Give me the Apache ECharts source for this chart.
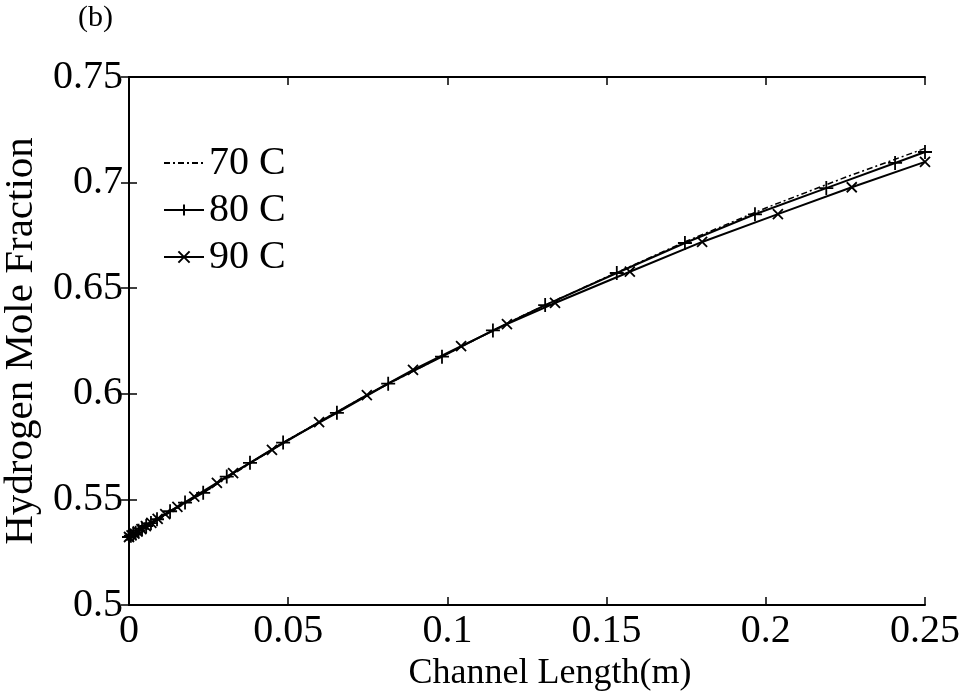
<!DOCTYPE html>
<html>
<head>
<meta charset="utf-8">
<script src="https://cdn.jsdelivr.net/npm/echarts@6/dist/echarts.min.js"></script>
<style>html,body{margin:0;padding:0;background:#fff;}#c{width:966px;height:697px;}</style>
</head>
<body>
<div id="c"></div>
<script>
// Data
const x70 = [0, 0.025, 0.05, 0.075, 0.1, 0.125, 0.15, 0.175, 0.2, 0.225, 0.25];
const y70 = [0.5322, 0.5547, 0.5783, 0.5997, 0.6190, 0.6380, 0.6553, 0.6722, 0.6880, 0.7025, 0.7162];

const x80 = [0, 0.0006, 0.0013, 0.0021, 0.0030, 0.0041, 0.0054, 0.0069, 0.0088, 0.0129, 0.0176, 0.0233, 0.0307, 0.0380, 0.0484, 0.0653, 0.0814, 0.0983, 0.1143, 0.1307, 0.1532, 0.1746, 0.1966, 0.2190, 0.2406, 0.2500];
const y80 = [0.5322, 0.5328, 0.5334, 0.5342, 0.5351, 0.5361, 0.5374, 0.5388, 0.5406, 0.5444, 0.5485, 0.5531, 0.5608, 0.5673, 0.5769, 0.5910, 0.6048, 0.6176, 0.6300, 0.6420, 0.6572, 0.6714, 0.6850, 0.6974, 0.7093, 0.7145];

const x90 = [0, 0.0008, 0.0017, 0.0027, 0.0039, 0.0053, 0.0070, 0.0090, 0.0114, 0.0152, 0.0205, 0.0276, 0.0327, 0.0449, 0.0597, 0.0747, 0.0892, 0.1043, 0.1187, 0.1338, 0.1573, 0.1800, 0.2038, 0.2270, 0.2500];
const y90 = [0.5322, 0.5330, 0.5338, 0.5348, 0.5359, 0.5373, 0.5389, 0.5408, 0.5430, 0.5465, 0.5513, 0.5578, 0.5624, 0.5734, 0.5866, 0.5994, 0.6113, 0.6226, 0.6330, 0.6430, 0.6578, 0.6719, 0.6851, 0.6978, 0.7098];

const seriesNames = ['70 C', '80 C', '90 C'];
const xTicks = {min: 0, max: 0.25, interval: 0.05};
const yTicks = {min: 0.5, max: 0.75, interval: 0.05};
const xTitle = 'Channel Length(m)';
const yTitle = 'Hydrogen Mole Fraction';
const panelLabel = '(b)';

const zip = (xs, ys) => xs.map((v, i) => [v, ys[i]]);
const FONT = '"Liberation Serif", "Times New Roman", serif';

const plusPath = 'path://M0,5L10,5M5,0L5,10';
const crossPath = 'path://M0,0L10,10M10,0L0,10';

const chart = echarts.init(document.getElementById('c'), null, {renderer: 'canvas'});

const axisCommon = {
  axisLine: {show: true, lineStyle: {color: '#000', width: 2}},
  axisTick: {show: true, inside: true, length: 8, lineStyle: {color: '#000', width: 1.5}},
  splitLine: {show: false},
};

chart.setOption({
  animation: false,
  backgroundColor: '#fff',
  grid: {left: 129, right: 41, top: 77, bottom: 92, containLabel: false, outerBoundsMode: 'none'},
  graphic: [{
    type: 'text', left: 78, top: 3,
    style: {text: panelLabel, font: '30px ' + FONT, fill: '#000'}
  }],
  legend: {
    orient: 'vertical', left: 158, top: 138,
    itemWidth: 40, itemHeight: 14, itemGap: 7,
    textStyle: {fontFamily: FONT, fontSize: 40, color: '#000'},
    data: seriesNames
  },
  xAxis: [
    Object.assign({
      type: 'value', position: 'bottom', min: xTicks.min, max: xTicks.max, interval: xTicks.interval,
      name: xTitle, nameLocation: 'middle', nameGap: 30,
      nameTextStyle: {fontFamily: FONT, fontSize: 36, color: '#000', padding: [0, 0, 0, 46]},
      axisLabel: {fontFamily: FONT, fontSize: 40, color: '#000', margin: 6}
    }, axisCommon),
    Object.assign({
      type: 'value', position: 'top', min: xTicks.min, max: xTicks.max, interval: xTicks.interval,
      axisLabel: {show: false}
    }, axisCommon)
  ],
  yAxis: [
    Object.assign({
      type: 'value', position: 'left', min: yTicks.min, max: yTicks.max, interval: yTicks.interval,
      name: yTitle, nameLocation: 'middle', nameGap: 79,
      nameTextStyle: {fontFamily: FONT, fontSize: 41, color: '#000'},
      axisLabel: {fontFamily: FONT, fontSize: 40, color: '#000', margin: 6}
    }, axisCommon),
    Object.assign({
      type: 'value', position: 'right', min: yTicks.min, max: yTicks.max, interval: yTicks.interval,
      axisLabel: {show: false}
    }, axisCommon)
  ],
  series: [
    {
      name: seriesNames[0], type: 'line', data: zip(x70, y70),
      showSymbol: false, symbol: 'circle', symbolSize: 1, smooth: false,
      lineStyle: {color: '#000', width: 1.5, type: [6, 3, 2, 3]},
      itemStyle: {color: 'rgba(0,0,0,0)', borderWidth: 0}
    },
    {
      name: seriesNames[1], type: 'line', data: zip(x80, y80),
      symbol: plusPath, symbolSize: 14, showAllSymbol: true,
      lineStyle: {color: '#000', width: 2},
      itemStyle: {color: 'none', borderColor: '#000', borderWidth: 1.8}
    },
    {
      name: seriesNames[2], type: 'line', data: zip(x90, y90),
      symbol: crossPath, symbolSize: 10, showAllSymbol: true,
      lineStyle: {color: '#000', width: 2},
      itemStyle: {color: 'none', borderColor: '#000', borderWidth: 1.8}
    }
  ]
});
</script>
</body>
</html>
